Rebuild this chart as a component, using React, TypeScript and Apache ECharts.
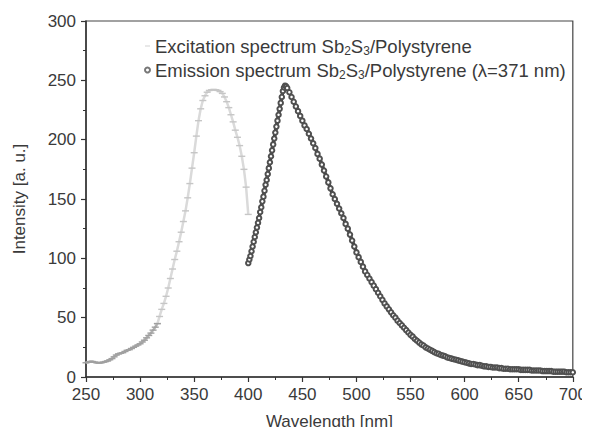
import React, { useEffect, useRef } from "react";
import * as echarts from "echarts";

const excitationWavelength = [
  250, 252, 254, 256, 258, 260, 262, 264, 266, 268, 270, 272, 274, 276, 278, 280,
  282, 284, 286, 288, 290, 292, 294, 296, 298, 300, 302, 304, 306, 308, 310, 312,
  314, 316, 318, 320, 322, 324, 326, 328, 330, 332, 334, 336, 338, 340, 342, 344,
  346, 348, 350, 352, 354, 356, 358, 360, 362, 364, 366, 368, 370, 372, 374, 376,
  378, 380, 382, 384, 386, 388, 390, 392, 394, 396, 398, 400,
];
const excitationIntensity = [
  12, 12.5, 13, 13, 12.5, 12, 12, 12, 12.5, 13, 13.5, 14.5, 15.5, 17, 18.5, 19.5,
  20, 20.5, 21.5, 22.5, 23, 24, 25, 26, 27, 28, 29.5, 31, 33, 35, 37, 39.5,
  42, 45, 51, 57, 62, 68, 75, 83, 91, 99, 106, 114, 122, 131, 140, 151,
  163, 176, 189, 203, 216, 226, 233, 237, 240, 241.5, 242, 242, 242, 241.5, 240.5, 239,
  236, 232, 227, 221, 215, 208, 202, 195, 186, 175, 160, 137,
];

const emissionWavelength = [
  400, 401, 402, 403, 404, 405, 406, 407, 408, 409, 410, 411, 412, 413, 414, 415,
  416, 417, 418, 419, 420, 421, 422, 423, 424, 425, 426, 427, 428, 429, 430, 431,
  432, 433, 434, 435, 436, 438, 440, 442, 444, 446, 448, 450, 452, 454, 456, 458,
  460, 462, 464, 466, 468, 470, 472, 474, 476, 478, 480, 482, 484, 486, 488, 490,
  492, 494, 496, 498, 500, 502, 504, 506, 508, 510, 512, 514, 516, 518, 520, 522,
  524, 526, 528, 530, 532, 534, 536, 538, 540, 542, 544, 546, 548, 550, 552, 554,
  556, 558, 560, 562, 564, 566, 568, 570, 572, 574, 576, 578, 580, 582, 584, 586,
  588, 590, 592, 594, 596, 598, 600, 602, 604, 606, 608, 610, 612, 614, 616, 618,
  620, 622, 624, 626, 628, 630, 632, 634, 636, 638, 640, 642, 644, 646, 648, 650,
  652, 654, 656, 658, 660, 662, 664, 666, 668, 670, 672, 674, 676, 678, 680, 682,
  684, 686, 688, 690, 692, 694, 696, 698, 700,
];
const emissionIntensity = [
  96, 99, 102, 106, 110, 114, 118, 122, 126, 130, 134, 139, 143, 148, 152, 157,
  162, 166, 171, 176, 181, 186, 191, 196, 201, 206, 211, 216, 221, 226, 231, 236,
  241, 244, 245.5, 245, 243.5, 240, 236, 232, 228, 224, 220, 216, 212, 209, 205, 201,
  197, 193, 188, 184, 179, 174, 169, 164, 159, 154, 150, 146, 142, 138, 134, 129,
  125, 120, 115, 110, 105, 101, 97, 93, 89, 86, 83, 80, 77, 74, 71, 68,
  65, 62, 59.5, 57, 54.5, 52, 50, 47.5, 45.5, 43.5, 41.5, 39.5, 37.5, 35.5, 34, 32,
  30.5, 29, 27.5, 26.5, 25, 24, 23, 22, 21, 20, 19.5, 18.5, 18, 17.5, 16.5, 16,
  15.5, 15, 14.5, 14, 13.5, 13, 12.5, 12, 11.5, 11, 11, 10.5, 10, 10, 9.5, 9,
  9, 8.5, 8.5, 8, 8, 8, 7.5, 7.5, 7, 7, 7, 6.5, 6.5, 6.5, 6.5, 6.5,
  6, 6, 6, 6, 6, 5.5, 5.5, 5.5, 5.5, 5.5, 5, 5, 5, 5, 5, 4.5,
  4.5, 4.5, 4.5, 4.5, 4.5, 4, 4, 4, 4,
];

const xTicks = { min: 250, max: 700, interval: 50 };
const yTicks = { min: 0, max: 300, interval: 50 };

const excitationName = "Excitation spectrum Sb{sub|2}S{sub|3}/Polystyrene";
const emissionName = "Emission spectrum Sb{sub|2}S{sub|3}/Polystyrene (λ=371 nm)";

const FONT = "Liberation Sans, Arial, Helvetica, sans-serif";
const TEXT = "#3a3a3a";

export default function App() {
  const ref = useRef<HTMLDivElement>(null);
  useEffect(() => {
    if (!ref.current) return;
    const chart = echarts.init(ref.current, undefined, { renderer: "svg" });
    const zip = (xs: number[], ys: number[]) => xs.map((x, i) => [x, ys[i]]);
    const excitation = zip(excitationWavelength, excitationIntensity);
    const excitationLow = excitation.filter((p) => p[0] <= 316);
    const excitationHigh = excitation.filter((p) => p[0] >= 316);
    chart.setOption({
      animation: false,
      backgroundColor: "#fff",
      textStyle: { fontFamily: FONT },
      grid: {
        left: 86,
        right: 15,
        top: 21,
        bottom: 53,
        show: true,
        borderColor: "#444",
        borderWidth: 1.2,
        containLabel: false,
      },
      legend: {
        show: true,
        orient: "vertical",
        left: 139,
        top: 30,
        itemWidth: 5,
        itemHeight: 5,
        itemGap: 2,
        selectedMode: false,
        textStyle: {
          fontFamily: FONT,
          fontSize: 18.5,
          color: TEXT,
          lineHeight: 22,
          rich: {
            sub: {
              fontSize: 12,
              fontFamily: FONT,
              color: TEXT,
              verticalAlign: "bottom",
              lineHeight: 22,
              padding: [10, 0, 0, 0],
            },
          },
        },
        data: [
          {
            name: excitationName,
            icon: "path://M0,0H8V1.6H0Z",
            itemStyle: { color: "#d0d0d0", borderWidth: 0 },
          },
          {
            name: emissionName,
            icon: "emptyCircle",
            itemStyle: { color: "#777", borderColor: "#777", borderWidth: 0.8 },
          },
        ],
      },
      xAxis: {
        type: "value",
        min: xTicks.min,
        max: xTicks.max,
        interval: xTicks.interval,
        name: "Wavelength [nm]",
        nameLocation: "middle",
        nameGap: 36,
        nameTextStyle: { fontSize: 17, color: TEXT, fontFamily: FONT },
        axisLine: { show: true, onZero: false, lineStyle: { color: "#333", width: 1.5 } },
        axisTick: { show: true, inside: false, length: 5, lineStyle: { color: "#333", width: 1.2 } },
        minorTick: { show: true, splitNumber: 2, length: 3, lineStyle: { color: "#333", width: 1 } },
        axisLabel: { fontSize: 17, color: TEXT, margin: 9, fontFamily: FONT },
        splitLine: { show: false },
      },
      yAxis: {
        type: "value",
        min: yTicks.min,
        max: yTicks.max,
        interval: yTicks.interval,
        name: "Intensity [a. u.]",
        nameLocation: "middle",
        nameGap: 58,
        nameTextStyle: { fontSize: 17, color: TEXT, fontFamily: FONT },
        axisLine: { show: true, lineStyle: { color: "#333", width: 1.5 } },
        axisTick: { show: true, inside: false, length: 5, lineStyle: { color: "#333", width: 1.2 } },
        minorTick: { show: true, splitNumber: 2, length: 3, lineStyle: { color: "#333", width: 1 } },
        axisLabel: { fontSize: 17, color: TEXT, margin: 10, fontFamily: FONT },
        splitLine: { show: false },
      },
      series: [
        {
          name: excitationName,
          type: "line",
          data: excitationHigh,
          symbol: "rect",
          symbolSize: [7, 1.4],
          showAllSymbol: true,
          itemStyle: { color: "#c6c6c6" },
          lineStyle: { color: "#dadada", width: 2.5 },
          z: 2,
        },
        {
          type: "line",
          data: excitationLow,
          symbol: "rect",
          symbolSize: [7, 1.4],
          showAllSymbol: true,
          itemStyle: { color: "#a0a0a0" },
          lineStyle: { color: "#b0b0b0", width: 2.5 },
          z: 2,
        },
        {
          name: emissionName,
          type: "line",
          data: zip(emissionWavelength, emissionIntensity),
          symbol: "emptyCircle",
          symbolSize: 4.5,
          showAllSymbol: true,
          itemStyle: { color: "#505050", borderWidth: 1 },
          lineStyle: { color: "#333", width: 3.5 },
          z: 3,
        },
      ],
    });
    return () => chart.dispose();
  }, []);
  return <div ref={ref} style={{ width: 590, height: 435, margin: -8 }} />;
}
